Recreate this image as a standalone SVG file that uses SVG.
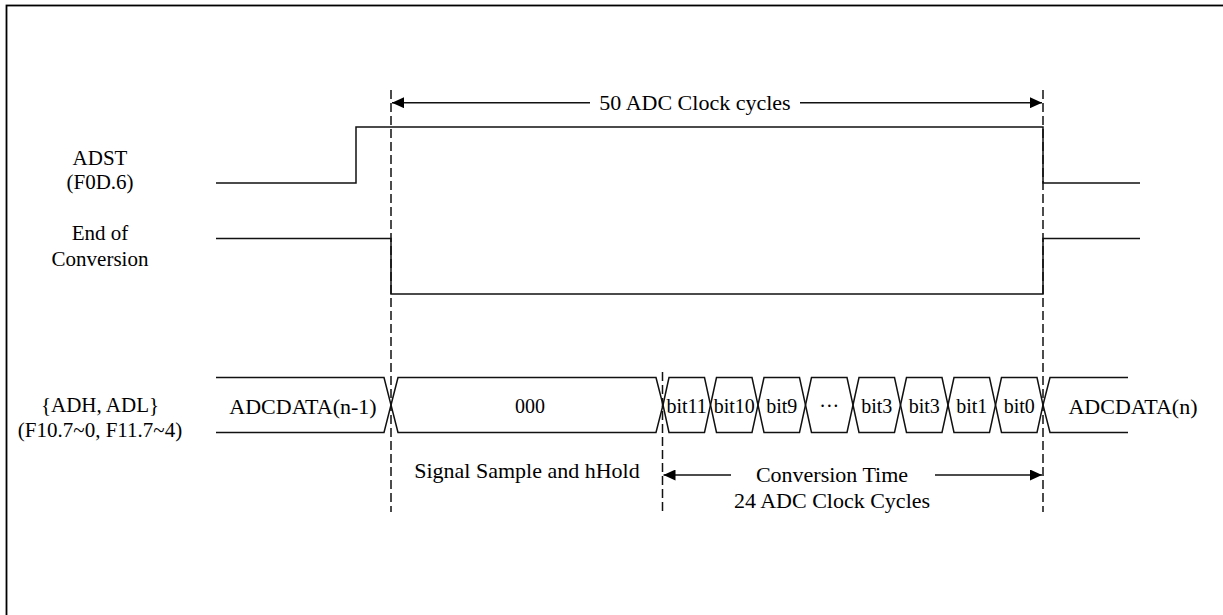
<svg xmlns="http://www.w3.org/2000/svg" width="1223" height="615" viewBox="0 0 1223 615">
<style>
.w{fill:none;stroke:#111;stroke-width:1.5}
.d{fill:none;stroke:#111;stroke-width:1.5;stroke-dasharray:9 4}
.t{font-family:"Liberation Serif","Times New Roman",serif;font-size:21px;fill:#000;text-anchor:middle}
.m{font-family:"Liberation Serif","Times New Roman",serif;font-size:22px;fill:#000;text-anchor:middle}
.b{font-family:"Liberation Serif","Times New Roman",serif;font-size:20px;fill:#000;text-anchor:middle}
</style>
<defs>
<marker id="ah" viewBox="0 0 12 11" refX="12" refY="5.5" markerWidth="12" markerHeight="11" markerUnits="userSpaceOnUse" orient="auto-start-reverse">
<path d="M0,0 L12,5.5 L0,11 Z" fill="#000"/>
</marker>
</defs>
<rect x="6.5" y="5.5" width="1240" height="640" fill="#fff" stroke="#000" stroke-width="1.8"/>

<g id="label-adst">
<text class="t" x="100" y="165">ADST</text>
<text class="t" x="100" y="189">(F0D.6)</text>
</g>
<g id="label-eoc">
<text class="t" x="100" y="240">End of</text>
<text class="t" x="100" y="266">Conversion</text>
</g>
<g id="label-bus">
<text class="t" x="100" y="412">{ADH, ADL}</text>
<text class="t" x="100" y="437">(F10.7~0, F11.7~4)</text>
</g>

<g id="wave-adst">
<path class="w" d="M216,183 H356 V127 H1043 V183 H1140"/>
</g>
<g id="wave-eoc">
<path class="w" d="M216,238.5 H391 V294 H1043 V238.5 H1140"/>
</g>

<g id="bus-prev">
<path class="w" d="M216,377.5 H384 L391,405 L384,432.5 H216"/>
<text class="m" x="303" y="414">ADCDATA(n-1)</text>
</g>
<g id="bus-000">
<path class="w" d="M391,405 L398,377.5 H656 L663,405 L656,432.5 H398 Z"/>
<text class="b" x="530" y="413">000</text>
</g>
<g id="bus-bit11">
<path class="w" d="M663,405 L669,377.5 H704.5 L710.5,405 L704.5,432.5 H669 Z"/>
<text class="b" x="686.7" y="413">bit11</text>
</g>
<g id="bus-bit10">
<path class="w" d="M710.5,405 L716.5,377.5 H752 L758,405 L752,432.5 H716.5 Z"/>
<text class="b" x="734.3" y="413">bit10</text>
</g>
<g id="bus-bit9">
<path class="w" d="M758,405 L764,377.5 H799.5 L805.5,405 L799.5,432.5 H764 Z"/>
<text class="b" x="781.8" y="413">bit9</text>
</g>
<g id="bus-dots">
<path class="w" d="M805.5,405 L811.5,377.5 H847 L853,405 L847,432.5 H811.5 Z"/>
<text class="b" x="829.3" y="413">···</text>
</g>
<g id="bus-bit3a">
<path class="w" d="M853,405 L859,377.5 H894.5 L900.5,405 L894.5,432.5 H859 Z"/>
<text class="b" x="876.8" y="413">bit3</text>
</g>
<g id="bus-bit3b">
<path class="w" d="M900.5,405 L906.5,377.5 H942 L948,405 L942,432.5 H906.5 Z"/>
<text class="b" x="924.3" y="413">bit3</text>
</g>
<g id="bus-bit1">
<path class="w" d="M948,405 L954,377.5 H989.5 L995.5,405 L989.5,432.5 H954 Z"/>
<text class="b" x="971.8" y="413">bit1</text>
</g>
<g id="bus-bit0">
<path class="w" d="M995.5,405 L1001.5,377.5 H1037 L1043,405 L1037,432.5 H1001.5 Z"/>
<text class="b" x="1019.3" y="413">bit0</text>
</g>
<g id="bus-next">
<path class="w" d="M1128,377.5 H1050 L1043,405 L1050,432.5 H1128"/>
<text class="m" x="1133" y="414">ADCDATA(n)</text>
</g>

<g id="label-total">
<text class="m" x="695" y="110">50 ADC Clock cycles</text>
</g>
<g id="label-sample">
<text class="m" x="527" y="478">Signal Sample and hHold</text>
</g>
<g id="label-conv">
<text class="m" x="832" y="482">Conversion Time</text>
<text class="m" x="832" y="508">24 ADC Clock Cycles</text>
</g>

<g id="connectors">
<line class="d" x1="391" y1="90" x2="391" y2="512"/>
<line class="d" x1="1043" y1="90" x2="1043" y2="512"/>
<line class="d" x1="662.5" y1="372" x2="662.5" y2="512"/>
<line class="w" x1="590" y1="102.7" x2="392" y2="102.7" marker-end="url(#ah)"/>
<line class="w" x1="800" y1="102.7" x2="1042" y2="102.7" marker-end="url(#ah)"/>
<line class="w" x1="731" y1="475" x2="663.5" y2="475" marker-end="url(#ah)"/>
<line class="w" x1="935" y1="475" x2="1042" y2="475" marker-end="url(#ah)"/>
</g>
</svg>
